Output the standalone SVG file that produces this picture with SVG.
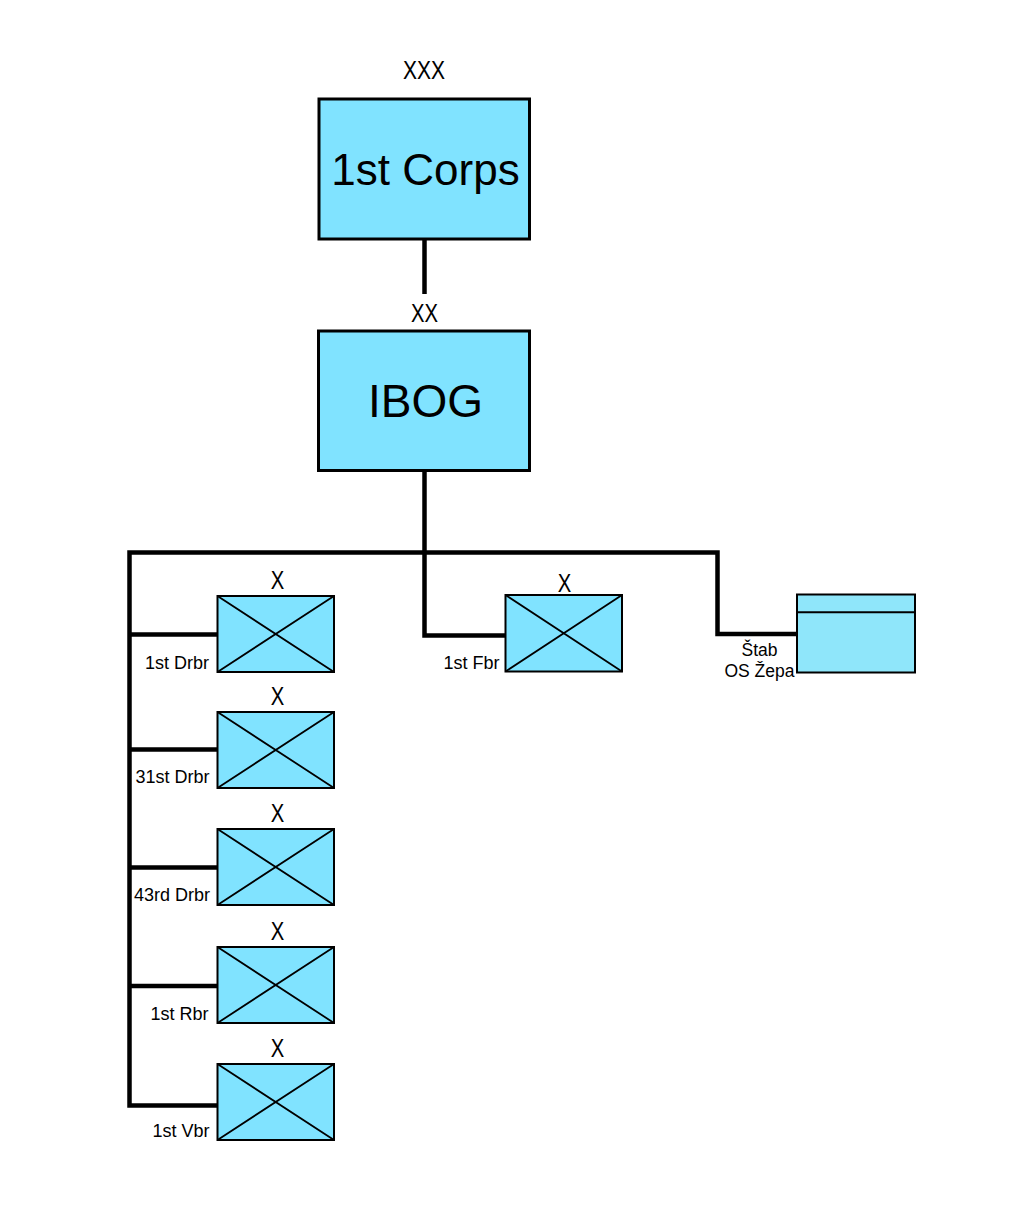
<svg xmlns="http://www.w3.org/2000/svg" width="1026" height="1213" viewBox="0 0 1026 1213">
<style>
  .big { fill:#80e3ff; stroke:#000; stroke-width:3; }
  .bde { fill:#80e3ff; stroke:#000; stroke-width:2; }
  .hq { fill:#8fe6fa; stroke:#000; stroke-width:2; }
  .diag { stroke:#000; stroke-width:1.8; fill:none; }
  .conn { stroke:#000; stroke-width:4.5; fill:none; stroke-linejoin:miter; }
  text { font-family:"Liberation Sans", Arial, sans-serif; fill:#000; }
  .ech { font-size:26px; text-anchor:middle; }
  .title { font-size:44px; text-anchor:middle; }
  .lbl { font-size:18px; text-anchor:end; }
  .lblc { font-size:17.5px; text-anchor:middle; }
</style>
<rect width="1026" height="1213" fill="#fff"/>

<g id="connectors">
  <path class="conn" d="M424.5,240 V294"/>
  <path class="conn" d="M424.5,472 V552.5"/>
  <path class="conn" d="M217,1105.5 H129.5 V552.5 H717.5 V634 H797"/>
  <path class="conn" d="M129.5,634.5 H217"/>
  <path class="conn" d="M129.5,749.5 H217"/>
  <path class="conn" d="M129.5,867.5 H217"/>
  <path class="conn" d="M129.5,986 H217"/>
  <path class="conn" d="M424.5,552.5 V635.5 H505"/>
</g>

<g id="corps">
  <text class="ech" x="424" y="79" textLength="42" lengthAdjust="spacingAndGlyphs">XXX</text>
  <rect class="big" x="319" y="99" width="210.5" height="140"/>
  <text class="title" x="425.5" y="185">1st Corps</text>
</g>

<g id="ibog">
  <text class="ech" x="424.5" y="321.5" textLength="27" lengthAdjust="spacingAndGlyphs">XX</text>
  <rect class="big" x="318.5" y="331" width="211" height="139.5"/>
  <text class="title" x="425.5" y="417" style="font-size:46px">IBOG</text>
</g>

<g id="drbr1">
  <text class="ech" x="277.5" y="588.5" textLength="13.5" lengthAdjust="spacingAndGlyphs">X</text>
  <rect class="bde" x="217.5" y="596" width="116.5" height="76"/>
  <path class="diag" d="M217.5,596 L334,672 M334,596 L217.5,672"/>
  <text class="lbl" x="209" y="669">1st Drbr</text>
</g>

<g id="drbr31">
  <text class="ech" x="277.5" y="704.5" textLength="13.5" lengthAdjust="spacingAndGlyphs">X</text>
  <rect class="bde" x="217.5" y="712" width="116.5" height="76"/>
  <path class="diag" d="M217.5,712 L334,788 M334,712 L217.5,788"/>
  <text class="lbl" x="209.5" y="782.5">31st Drbr</text>
</g>

<g id="drbr43">
  <text class="ech" x="277.5" y="821.5" textLength="13.5" lengthAdjust="spacingAndGlyphs">X</text>
  <rect class="bde" x="217.5" y="829" width="116.5" height="76"/>
  <path class="diag" d="M217.5,829 L334,905 M334,829 L217.5,905"/>
  <text class="lbl" x="210" y="900.5">43rd Drbr</text>
</g>

<g id="rbr1">
  <text class="ech" x="277.5" y="939.5" textLength="13.5" lengthAdjust="spacingAndGlyphs">X</text>
  <rect class="bde" x="217.5" y="947" width="116.5" height="76"/>
  <path class="diag" d="M217.5,947 L334,1023 M334,947 L217.5,1023"/>
  <text class="lbl" x="208.5" y="1020">1st Rbr</text>
</g>

<g id="vbr1">
  <text class="ech" x="277.5" y="1056.5" textLength="13.5" lengthAdjust="spacingAndGlyphs">X</text>
  <rect class="bde" x="217.5" y="1064" width="116.5" height="76"/>
  <path class="diag" d="M217.5,1064 L334,1140 M334,1064 L217.5,1140"/>
  <text class="lbl" x="209.5" y="1136.5">1st Vbr</text>
</g>

<g id="fbr1">
  <text class="ech" x="564.5" y="591.5" textLength="13.5" lengthAdjust="spacingAndGlyphs">X</text>
  <rect class="bde" x="505.5" y="595" width="116.5" height="76.5"/>
  <path class="diag" d="M505.5,595 L622,671.5 M622,595 L505.5,671.5"/>
  <text class="lbl" x="499.5" y="668.5">1st Fbr</text>
</g>

<g id="stab">
  <rect class="hq" x="797" y="594.5" width="118" height="78"/>
  <line class="diag" x1="797" y1="612.3" x2="915" y2="612.3" style="stroke-width:2"/>
  <text class="lblc" x="759.5" y="656">Štab</text>
  <text class="lblc" x="759.5" y="677">OS Žepa</text>
</g>
</svg>
